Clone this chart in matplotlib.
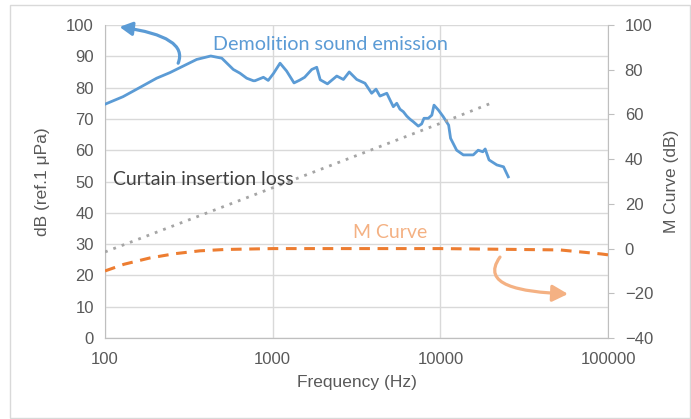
# -*- coding: utf-8 -*-
"""
Demolition sound emission, curtain insertion loss and M curve over frequency
"""

import matplotlib
matplotlib.use("Agg")
import matplotlib.pyplot as plt
from matplotlib.patches import Rectangle, FancyArrowPatch
from matplotlib.path import Path

# demolition sound emission (left axis, dB ref. 1 uPa)
emission_freq = [100, 128, 162, 203, 244, 293, 352, 427, 497, 582, 638, 700, 766,
                 784, 880, 940, 1010, 1106, 1210, 1340, 1450, 1550, 1710, 1830,
                 1920, 2120, 2410, 2640, 2860, 3170, 3550, 3890, 4130, 4360, 4790,
                 4950, 5240, 5490, 5740, 6010, 6300, 6590, 6890, 7380, 7730, 7980,
                 8470, 8890, 9160, 9740, 10400, 11200, 11500, 12500, 13700, 15700,
                 16800, 17900, 18500, 19500, 21700, 23800, 25400]
emission_db = [74.7, 77.1, 80.1, 83.0, 84.8, 86.9, 89.0, 90.1, 89.4, 85.8, 84.6,
               83.0, 82.2, 82.2, 83.3, 82.3, 84.5, 87.8, 85.3, 81.5, 82.4, 83.3,
               85.8, 86.5, 82.5, 81.2, 83.7, 82.6, 85.0, 82.6, 81.4, 78.2, 79.5,
               77.3, 78.2, 76.6, 73.9, 75.0, 73.1, 72.3, 70.9, 69.9, 69.1, 67.7,
               68.4, 70.2, 70.2, 71.2, 74.4, 72.8, 70.7, 68.0, 63.8, 60.0, 58.5,
               58.5, 60.0, 59.5, 60.4, 56.9, 55.3, 54.7, 51.5]

# curtain insertion loss (left axis)
loss_freq = [100, 1000, 10000, 20000]
loss_db = [27.5, 48.0, 68.6, 75.0]

# M curve (right axis)
m_freq = [100, 130, 185, 260, 368, 520, 1000, 3000, 10000, 22500, 51600, 91000, 100000]
m_db = [-10.0, -7.0, -4.2, -2.3, -1.0, -0.4, 0.0, 0.0, 0.0, -0.3, -0.6, -2.4, -2.8]

x_ticks = [100, 1000, 10000, 100000]
x_ticklabels = ["100", "1000", "10000", "100000"]

blue = "#5B9BD5"
orange = "#ED7D31"
light_orange = "#F4B183"
grey = "#A5A5A5"
text_grey = "#595959"
grid_grey = "#D9D9D9"

plt.rcParams['font.family'] = ['Liberation Sans', 'DejaVu Sans']

fig = plt.figure(figsize=(6.91, 4.19), dpi=100)
ax = fig.add_axes([0.152, 0.1933, 0.728, 0.747])
ax2 = ax.twinx()

# chart border
fig.patches.append(Rectangle((10 / 691, 1 / 419), 680 / 691, 413 / 419,
                             transform=fig.transFigure, fill=False,
                             edgecolor="#D9D9D9", linewidth=1.0))

ax.plot(emission_freq, emission_db, color=blue, linewidth=2.0, zorder=3)
ax.plot(loss_freq, loss_db, color=grey, linewidth=2.0, linestyle=(0, (1, 2.2)), zorder=3)
ax2.plot(m_freq, m_db, color=orange, linewidth=2.2, linestyle=(0, (3.5, 2.5)), zorder=3)

ax.set_xscale("log")
ax.set_xlim(100, 100000)
ax.set_ylim(0, 100)
ax.set_yticks(range(0, 101, 10))
ax.set_xticks(x_ticks)
ax.set_xticklabels(x_ticklabels)
ax.minorticks_off()
ax2.set_ylim(-40, 100)
ax2.set_yticks(range(-40, 101, 20))

ax.grid(True, color=grid_grey, linewidth=1.0, zorder=0)
ax.set_axisbelow(True)

for a in (ax, ax2):
    for side in ("top", "right", "left"):
        a.spines[side].set_visible(False)
    a.spines["bottom"].set_color("#BFBFBF")
ax.spines["left"].set_visible(True)
ax.spines["left"].set_color("#BFBFBF")
ax2.spines["right"].set_visible(True)
ax2.spines["right"].set_color("#BFBFBF")

ax.tick_params(axis="both", colors=text_grey, labelsize=12, length=0, pad=8)
ax.tick_params(axis="x", pad=10)
ax2.tick_params(axis="y", colors=text_grey, labelsize=12, length=4, direction="out",
                pad=8, color="#BFBFBF")

ax.set_xlabel("Frequency (Hz)", color=text_grey, fontsize=12.5, labelpad=6)
ax.set_ylabel("dB (ref.1 μPa)", color=text_grey, fontsize=12.5, labelpad=12)
ax2.set_ylabel("M Curve (dB)", color=text_grey, fontsize=12.5, labelpad=8)

ax.text(440, 93.9, "Demolition sound emission", color=blue, fontsize=14.2,
        family=['Lato', 'DejaVu Sans'], va="center", ha="left")
ax.text(112, 50.5, "Curtain insertion loss", color="#404040", fontsize=14,
        family=['Lato', 'DejaVu Sans'], va="center", ha="left")
ax2.text(3010, 7.4, "M Curve", color=light_orange, fontsize=14,
         family=['Lato', 'DejaVu Sans'], va="center", ha="left")

# curved call-out arrows pointing to each axis
ax.annotate("", xy=(122, 99.4), xytext=(273, 87.8),
            arrowprops=dict(arrowstyle="-|>,head_length=0.75,head_width=0.4",
                            color=blue, linewidth=2.3, shrinkA=0, shrinkB=0,
                            connectionstyle="angle3,angleA=68,angleB=-8"),
            annotation_clip=False, zorder=4)

m_arrow = Path([(22670, -3.8), (17220, -16.3), (29840, -19.4), (57670, -20.3)],
               [Path.MOVETO, Path.CURVE4, Path.CURVE4, Path.CURVE4])
ax2.add_patch(FancyArrowPatch(path=m_arrow, transform=ax2.transData,
                              arrowstyle="-|>,head_length=0.75,head_width=0.4",
                              mutation_scale=12.5, color=light_orange,
                              linewidth=2.3, clip_on=False, zorder=4))

fig.savefig("out.png", dpi=100)
